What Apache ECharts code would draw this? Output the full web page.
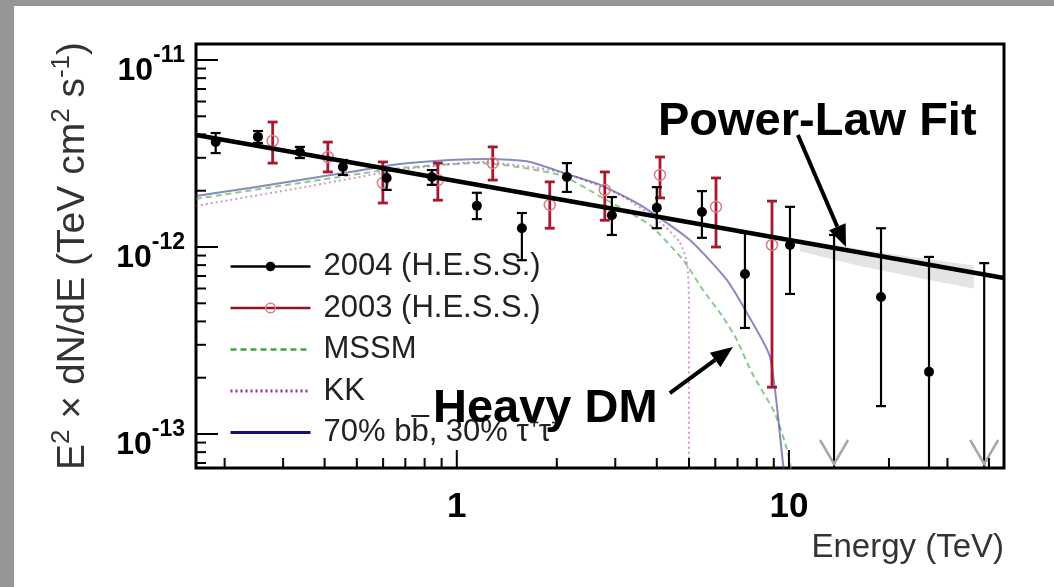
<!DOCTYPE html>
<html>
<head>
<meta charset="utf-8">
<title>Galactic Centre gamma-ray spectrum</title>
<script src="https://cdn.jsdelivr.net/npm/echarts@6.0.0/dist/echarts.min.js"></script>
<style>
html, body { margin: 0; padding: 0; background: #969696; }
#chart { position: absolute; left: 14px; top: 6px; width: 1040px; height: 581px; background: #fff; }
</style>
</head>
<body>
<div id="chart"></div>
<script>
// all fluxes are E^2 dN/dE in units of 1e-12 TeV cm^-2 s^-1, energies in TeV

// H.E.S.S. 2004 (null flux = upper limit, null low = bar runs off the axis)
var hess04E   = [0.188, 0.252, 0.337, 0.454, 0.615, 0.841, 1.149, 1.570, 2.145, 2.93, 4.00, 5.47, 7.37, 10.07, 13.67, 18.93, 26.4, 38.7];
var hess04F   = [3.64, 3.88, 3.22, 2.68, 2.34, 2.37, 1.66, 1.26, 2.37, 1.48, 1.62, 1.54, 0.717, 1.025, null, 0.54, 0.215, null];
var hess04Hi  = [4.07, 4.17, 3.43, 2.92, 2.58, 2.58, 1.95, 1.52, 2.81, 1.85, 2.09, 1.99, 1.19, 1.64, 1.16, 1.26, 0.885, 0.82];
var hess04Lo  = [3.18, 3.60, 2.99, 2.43, 2.02, 2.15, 1.41, 0.85, 1.97, 1.16, 1.26, 1.12, 0.369, 0.561, null, 0.141, null, null];

// H.E.S.S. 2003
var hess03E   = [0.279, 0.409, 0.599, 0.877, 1.283, 1.905, 2.79, 4.09, 6.03, 8.89];
var hess03F   = [3.69, 3.03, 2.20, 2.28, 2.81, 1.68, 2.02, 2.43, 1.64, 1.025];
var hess03Hi  = [4.66, 3.64, 2.85, 2.81, 3.43, 2.23, 2.52, 3.03, 2.34, 1.76];
var hess03Lo  = [2.81, 2.52, 1.72, 1.78, 2.28, 1.26, 1.39, 1.83, 1.00, 0.178];

// dark matter model curves
var mssmE = [0.164, 0.337, 0.673, 1.173, 2.04, 2.75, 3.81, 4.80, 5.51, 6.33, 6.97, 7.74, 9.07, 9.93, 10.4];
var mssmF = [1.81, 2.20, 2.64, 2.81, 2.43, 1.83, 1.31, 0.852, 0.589, 0.422, 0.318, 0.212, 0.129, 0.079, 0.05];
var kkE   = [0.164, 0.337, 0.673, 1.173, 2.04, 3.10, 4.09, 4.69, 4.93, 5.0, 5.0];
var kkF   = [1.66, 2.07, 2.58, 2.85, 2.52, 1.90, 1.36, 1.06, 0.832, 0.521, 0.05];
var bbE   = [0.164, 0.238, 0.337, 0.476, 0.673, 0.952, 1.257, 1.66, 2.14, 2.70, 3.56, 5.03, 6.50, 7.47, 8.77, 9.52, 9.79];
var bbF   = [1.875, 2.07, 2.28, 2.52, 2.78, 2.92, 2.96, 2.85, 2.46, 2.15, 1.68, 1.09, 0.667, 0.444, 0.258, 0.079, 0.05];

// power-law fit and its error band
var fitE = [0.164, 44.4];
var fitF = [3.97, 0.683];
var bandE  = [10.8, 16, 24, 36];
var bandHi = [1.10, 0.98, 0.88, 0.80];
var bandLo = [0.95, 0.80, 0.69, 0.60];

// annotation arrows [fromE, fromF, toE, toF]
var arrows = [
	[10.64, 3.97, 14.85, 1.0],   // Power-Law Fit
	[4.38, 0.1656, 6.78, 0.292]  // Heavy DM
];

// axis ranges and ticks
var X_MIN = 0.164, X_MAX = 44.4;
var Y_MIN = 0.0658, Y_MAX = 12.18;
var xMajor = [1, 10];
var xMinor = [0.2, 0.3, 0.4, 0.5, 0.6, 0.7, 0.8, 0.9, 2, 3, 4, 5, 6, 7, 8, 9, 20, 30, 40];
var yMajor = [0.1, 1, 10];
var yMinor = [0.07, 0.08, 0.09, 0.2, 0.3, 0.4, 0.5, 0.6, 0.7, 0.8, 0.9, 2, 3, 4, 5, 6, 7, 8, 9];

var FONT = '"Liberation Sans", Arial, sans-serif';
var OX = 14, OY = 6; // chart div offset inside the grey frame

function zip(a, b) {
	return a.map(function(v, i) { return [v, b[i]]; });
}

function errData(E, F, lo, hi) {
	return E.map(function(e, i) {
		return [e, lo[i] == null ? Y_MIN : lo[i], hi[i], F[i] == null ? 1 : 0];
	});
}

function errBars(color, width, capHalf) {
	return function(params, api) {
		var x = api.value(0);
		var top = api.coord([x, api.value(2)]);
		var bot = api.coord([x, api.value(1)]);
		var axisBot = api.coord([x, Y_MIN]);
		var st = { stroke: color, lineWidth: width };
		var kids = [
			{ type: 'line', shape: { x1: top[0], y1: top[1], x2: top[0], y2: Math.min(bot[1], axisBot[1]) }, style: st },
			{ type: 'line', shape: { x1: top[0] - capHalf, y1: top[1], x2: top[0] + capHalf, y2: top[1] }, style: st }
		];
		if (bot[1] < axisBot[1] - 1) {
			kids.push({ type: 'line', shape: { x1: bot[0] - capHalf, y1: bot[1], x2: bot[0] + capHalf, y2: bot[1] }, style: st });
		}
		if (api.value(3) === 1) { // upper limit arrow
			kids.push({ type: 'polyline', shape: { points: [[axisBot[0] - 14, axisBot[1] - 28], [axisBot[0], axisBot[1] - 4], [axisBot[0] + 14, axisBot[1] - 28]] },
				style: { stroke: '#a8a8a8', lineWidth: 2.5, fill: null } });
		}
		return { type: 'group', children: kids };
	};
}

function tickSeries(values, dir, len) {
	return {
		type: 'custom', silent: true, z: 6,
		data: values.map(function(v) { return dir === 'x' ? [v, Y_MIN] : [X_MIN, v]; }),
		renderItem: function(params, api) {
			var p = api.coord([api.value(0), api.value(1)]);
			var shape = dir === 'x'
				? { x1: p[0], y1: p[1], x2: p[0], y2: p[1] - len }
				: { x1: p[0], y1: p[1], x2: p[0] + len, y2: p[1] };
			return { type: 'line', shape: shape, style: { stroke: '#000', lineWidth: 2 } };
		}
	};
}

function isDecade(v) {
	var p = Math.log10(v);
	return Math.abs(p - Math.round(p)) < 1e-6;
}

var chart = echarts.init(document.getElementById('chart'));

var option = {
	animation: false,
	textStyle: { fontFamily: FONT },
	grid: { left: 196 - OX, top: 44 - OY, width: 808, height: 424, show: true, borderColor: '#000', borderWidth: 3, backgroundColor: 'transparent' },
	xAxis: {
		type: 'log', logBase: 10, min: X_MIN, max: X_MAX,
		axisLine: { show: false }, axisTick: { show: false }, splitLine: { show: false }, minorTick: { show: false },
		axisLabel: {
			margin: 22, fontSize: 35, fontWeight: 'bold', color: '#000', showMinLabel: false, showMaxLabel: false,
			formatter: function(v) { return isDecade(v) ? String(Math.round(v)) : ''; }
		},
		name: 'Energy (TeV)', nameLocation: 'end', nameGap: 0, nameMoveOverlap: false,
		nameTextStyle: { fontSize: 33, color: '#333', align: 'right', verticalAlign: 'top', padding: [63, 0, 0, 0] }
	},
	yAxis: {
		type: 'log', logBase: 10, min: Y_MIN, max: Y_MAX,
		axisLine: { show: false }, axisTick: { show: false }, splitLine: { show: false }, minorTick: { show: false },
		axisLabel: {
			margin: 11, showMinLabel: false, showMaxLabel: false, padding: [22, 0, 0, 0],
			formatter: function(v) {
				if (!isDecade(v)) return '';
				return '{b|10}{s|' + (Math.round(Math.log10(v)) - 12) + '}';
			},
			rich: {
				b: { fontSize: 32, fontWeight: 'bold', color: '#000', fontFamily: FONT },
				s: { fontSize: 23, fontWeight: 'bold', color: '#000', fontFamily: FONT, padding: [0, 0, 30, 0] }
			}
		},
		name: '{n|E}{s|2}{n| × dN/dE (TeV cm}{s|2}{n| s}{s|-1}{n|)}',
		nameLocation: 'middle', nameGap: 99, nameMoveOverlap: false,
		nameTextStyle: {
			rich: {
				n: { fontSize: 39, color: '#333', fontFamily: FONT },
				s: { fontSize: 26, color: '#333', fontFamily: FONT, padding: [0, 0, 22, 0] }
			}
		}
	},
	legend: {
		orient: 'vertical', left: 229 - OX - 5, top: 251 - OY - 5,
		itemWidth: 80, itemHeight: 12, itemGap: 10.5, selectedMode: false,
		textStyle: { fontSize: 31, lineHeight: 31, color: '#222', fontFamily: FONT, padding: [0, 0, 0, 8] },
		data: [
			{ name: '2004 (H.E.S.S.)', lineStyle: { width: 2.5, opacity: 1, color: '#000' } },
			{ name: '2003 (H.E.S.S.)', lineStyle: { width: 2.5, opacity: 1, color: '#8e1420' },
				itemStyle: { color: 'rgba(0,0,0,0)', borderColor: '#e08080', borderWidth: 1.5 } },
			{ name: 'MSSM', lineStyle: { width: 2.5, opacity: 1, color: '#3aa83a' }, itemStyle: { opacity: 0 } },
			{ name: 'KK', lineStyle: { width: 3, opacity: 1, color: '#9a2a9a' }, itemStyle: { opacity: 0 } },
			{ name: '70% bb\u0305, 30% \u03c4\u207a\u03c4\u207b', lineStyle: { width: 3, opacity: 1, color: '#10107a' }, itemStyle: { opacity: 0 } }
		]
	},
	graphic: [
		{ type: 'text', left: 658 - OX, top: 121 - OY - 22, z: 100,
			style: { text: 'Power-Law Fit', font: 'bold 47px ' + FONT, fill: '#000' } },
		{ type: 'text', left: 433 - OX, top: 410 - OY - 24, z: 100,
			style: { text: 'Heavy DM', font: 'bold 47px ' + FONT, fill: '#000' } }
	],
	series: [
		{ // fit error band
			type: 'custom', silent: true, z: 1,
			data: [[bandE[0], bandLo[0]]],
			renderItem: function(params, api) {
				var pts = [];
				bandE.forEach(function(e, i) { pts.push(api.coord([e, bandHi[i]])); });
				for (var i = bandE.length - 1; i >= 0; i--) pts.push(api.coord([bandE[i], bandLo[i]]));
				return { type: 'polygon', shape: { points: pts }, style: { fill: '#e4e4e4' } };
			}
		},
		{ name: 'MSSM', type: 'line', data: zip(mssmE, mssmF), showSymbol: false, symbol: 'none', smooth: 0.2, z: 2,
			color: '#3aa83a', lineStyle: { type: [6, 4], width: 2, opacity: 0.6 } },
		{ name: 'KK', type: 'line', data: zip(kkE, kkF), showSymbol: false, symbol: 'none', smooth: 0.2, z: 2,
			color: '#b040b0', lineStyle: { type: [2, 3], width: 2, opacity: 0.55 } },
		{ name: '70% bb\u0305, 30% \u03c4\u207a\u03c4\u207b', type: 'line', data: zip(bbE, bbF), showSymbol: false, symbol: 'none', smooth: 0.2, z: 2,
			color: '#3a3a9a', lineStyle: { width: 2, opacity: 0.6 } },
		{ // 2003 error bars
			type: 'custom', silent: true, z: 3, clip: true, encode: { x: 0, y: [1, 2] },
			data: errData(hess03E, hess03F, hess03Lo, hess03Hi),
			renderItem: errBars('#a8182c', 2.8, 5)
		},
		{ name: '2003 (H.E.S.S.)', type: 'line', data: zip(hess03E, hess03F), z: 4,
			symbol: 'circle', symbolSize: 11, color: '#e08080',
			itemStyle: { color: 'rgba(0,0,0,0)', borderColor: '#e07a84', borderWidth: 1.5 },
			lineStyle: { opacity: 0 } },
		{ // power-law fit
			type: 'line', data: zip(fitE, fitF), symbol: 'none', z: 5,
			lineStyle: { color: '#000', width: 4.5 }
		},
		{ // 2004 error bars
			type: 'custom', silent: true, z: 5, clip: true, encode: { x: 0, y: [1, 2] },
			data: errData(hess04E, hess04F, hess04Lo, hess04Hi),
			renderItem: errBars('#000', 2.2, 5)
		},
		{ name: '2004 (H.E.S.S.)', type: 'line', data: zip(hess04E, hess04F), z: 6,
			symbol: 'circle', symbolSize: 10, color: '#000', lineStyle: { opacity: 0 } },
		{ // annotation arrows
			type: 'custom', silent: true, z: 7, encode: { x: [0, 2], y: [1, 3] },
			data: arrows,
			renderItem: function(params, api) {
				var p0 = api.coord([api.value(0), api.value(1)]);
				var p1 = api.coord([api.value(2), api.value(3)]);
				var dx = p1[0] - p0[0], dy = p1[1] - p0[1];
				var len = Math.sqrt(dx * dx + dy * dy), ux = dx / len, uy = dy / len;
				var bx = p1[0] - ux * 22, by = p1[1] - uy * 22;
				return { type: 'group', children: [
					{ type: 'line', shape: { x1: p0[0], y1: p0[1], x2: bx, y2: by }, style: { stroke: '#000', lineWidth: 4 } },
					{ type: 'polygon', shape: { points: [[p1[0], p1[1]], [bx - uy * 9, by + ux * 9], [bx + uy * 9, by - ux * 9]] }, style: { fill: '#000' } }
				] };
			}
		},
		tickSeries(xMajor, 'x', 18),
		tickSeries(xMinor, 'x', 10),
		tickSeries(yMajor, 'y', 22),
		tickSeries(yMinor, 'y', 10)
	]
};

chart.setOption(option);
</script>
</body>
</html>
